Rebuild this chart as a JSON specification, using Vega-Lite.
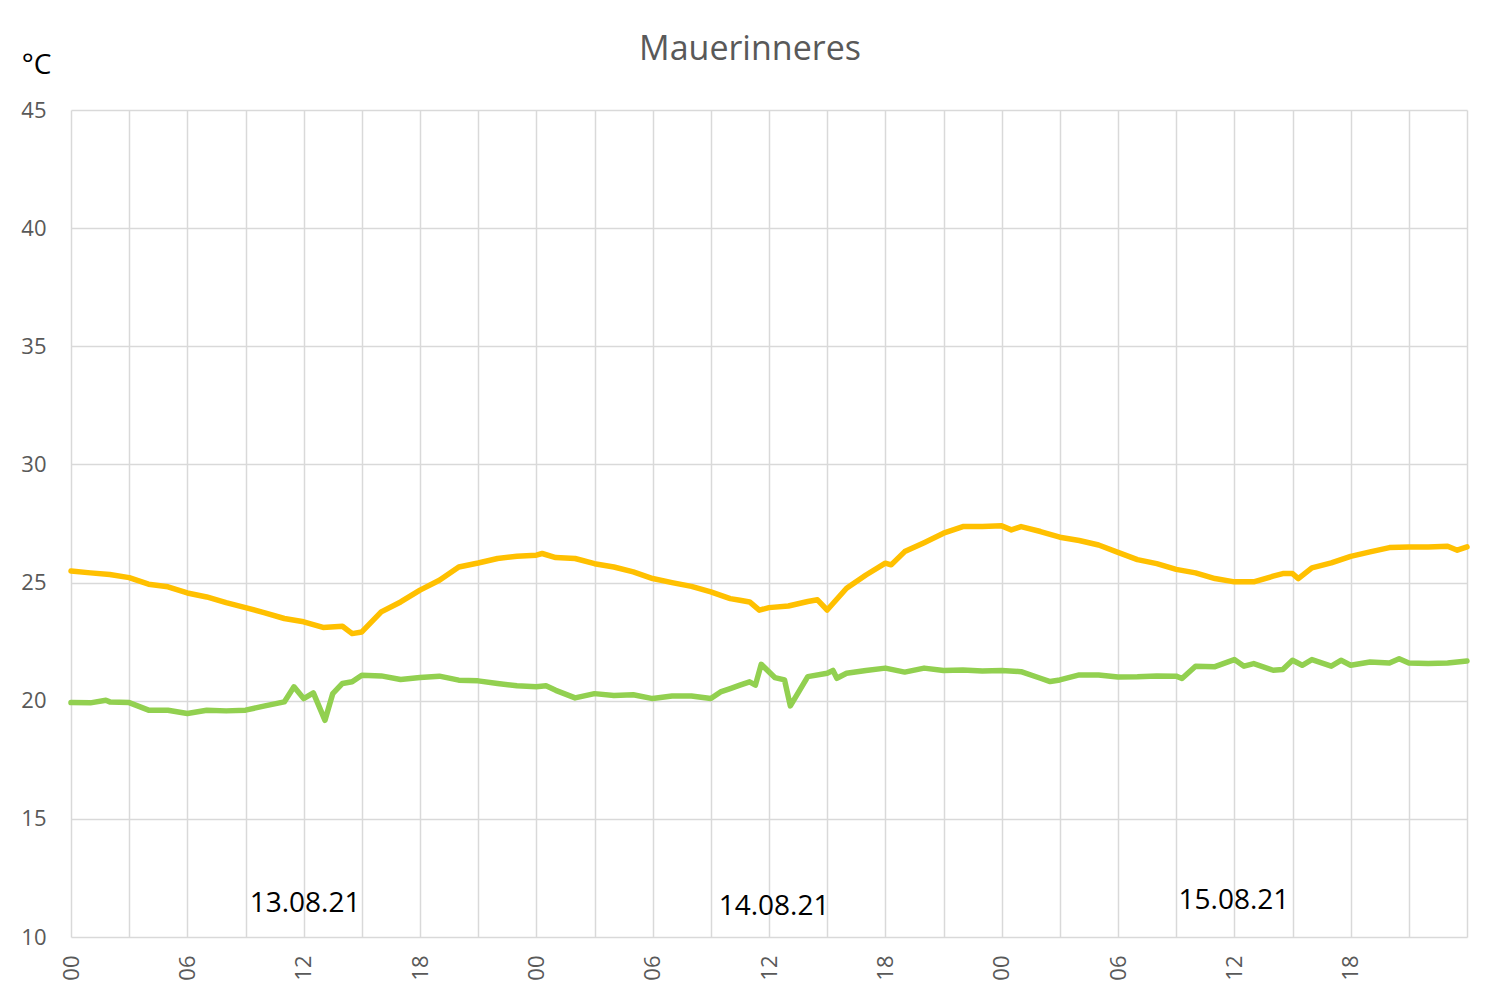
{
  "$schema": "https://vega.github.io/schema/vega-lite/v6.json",
  "width": 1396,
  "height": 827,
  "autosize": "none",
  "padding": {"left": 71, "top": 110, "right": 33, "bottom": 64},
  "background": "white",
  "title": {
    "text": "Mauerinneres",
    "font": "Open Sans",
    "fontSize": 34,
    "fontWeight": "normal",
    "color": "#595959",
    "anchor": "middle",
    "frame": "group",
    "baseline": "alphabetic",
    "offset": 0,
    "dy": 43,
    "dx": -19
  },
  "datasets": {
    "temps": [
      {"h": 0, "T": 25.49, "serie": "Reihe 1"},
      {"h": 1, "T": 25.41, "serie": "Reihe 1"},
      {"h": 2, "T": 25.34, "serie": "Reihe 1"},
      {"h": 3, "T": 25.21, "serie": "Reihe 1"},
      {"h": 4, "T": 24.93, "serie": "Reihe 1"},
      {"h": 5, "T": 24.82, "serie": "Reihe 1"},
      {"h": 6, "T": 24.56, "serie": "Reihe 1"},
      {"h": 7, "T": 24.39, "serie": "Reihe 1"},
      {"h": 8, "T": 24.15, "serie": "Reihe 1"},
      {"h": 9, "T": 23.94, "serie": "Reihe 1"},
      {"h": 10, "T": 23.72, "serie": "Reihe 1"},
      {"h": 11, "T": 23.48, "serie": "Reihe 1"},
      {"h": 12, "T": 23.34, "serie": "Reihe 1"},
      {"h": 13, "T": 23.10, "serie": "Reihe 1"},
      {"h": 14, "T": 23.15, "serie": "Reihe 1"},
      {"h": 14.5, "T": 22.84, "serie": "Reihe 1"},
      {"h": 15, "T": 22.91, "serie": "Reihe 1"},
      {"h": 16, "T": 23.76, "serie": "Reihe 1"},
      {"h": 17, "T": 24.18, "serie": "Reihe 1"},
      {"h": 18, "T": 24.68, "serie": "Reihe 1"},
      {"h": 19, "T": 25.10, "serie": "Reihe 1"},
      {"h": 20, "T": 25.66, "serie": "Reihe 1"},
      {"h": 21, "T": 25.83, "serie": "Reihe 1"},
      {"h": 22, "T": 26.02, "serie": "Reihe 1"},
      {"h": 23, "T": 26.11, "serie": "Reihe 1"},
      {"h": 24, "T": 26.16, "serie": "Reihe 1"},
      {"h": 24.3, "T": 26.23, "serie": "Reihe 1"},
      {"h": 25, "T": 26.06, "serie": "Reihe 1"},
      {"h": 26, "T": 26.02, "serie": "Reihe 1"},
      {"h": 27, "T": 25.80, "serie": "Reihe 1"},
      {"h": 28, "T": 25.66, "serie": "Reihe 1"},
      {"h": 29, "T": 25.45, "serie": "Reihe 1"},
      {"h": 30, "T": 25.17, "serie": "Reihe 1"},
      {"h": 31, "T": 25.00, "serie": "Reihe 1"},
      {"h": 32, "T": 24.84, "serie": "Reihe 1"},
      {"h": 33, "T": 24.61, "serie": "Reihe 1"},
      {"h": 34, "T": 24.32, "serie": "Reihe 1"},
      {"h": 34.5, "T": 24.25, "serie": "Reihe 1"},
      {"h": 35, "T": 24.18, "serie": "Reihe 1"},
      {"h": 35.5, "T": 23.83, "serie": "Reihe 1"},
      {"h": 36, "T": 23.94, "serie": "Reihe 1"},
      {"h": 37, "T": 24.01, "serie": "Reihe 1"},
      {"h": 38, "T": 24.20, "serie": "Reihe 1"},
      {"h": 38.5, "T": 24.27, "serie": "Reihe 1"},
      {"h": 39, "T": 23.84, "serie": "Reihe 1"},
      {"h": 40, "T": 24.76, "serie": "Reihe 1"},
      {"h": 41, "T": 25.32, "serie": "Reihe 1"},
      {"h": 42, "T": 25.82, "serie": "Reihe 1"},
      {"h": 42.3, "T": 25.75, "serie": "Reihe 1"},
      {"h": 43, "T": 26.31, "serie": "Reihe 1"},
      {"h": 44, "T": 26.69, "serie": "Reihe 1"},
      {"h": 45, "T": 27.09, "serie": "Reihe 1"},
      {"h": 46, "T": 27.37, "serie": "Reihe 1"},
      {"h": 47, "T": 27.37, "serie": "Reihe 1"},
      {"h": 48, "T": 27.40, "serie": "Reihe 1"},
      {"h": 48.5, "T": 27.23, "serie": "Reihe 1"},
      {"h": 49, "T": 27.37, "serie": "Reihe 1"},
      {"h": 50, "T": 27.16, "serie": "Reihe 1"},
      {"h": 51, "T": 26.92, "serie": "Reihe 1"},
      {"h": 52, "T": 26.78, "serie": "Reihe 1"},
      {"h": 53, "T": 26.59, "serie": "Reihe 1"},
      {"h": 54, "T": 26.28, "serie": "Reihe 1"},
      {"h": 55, "T": 25.97, "serie": "Reihe 1"},
      {"h": 56, "T": 25.80, "serie": "Reihe 1"},
      {"h": 57, "T": 25.56, "serie": "Reihe 1"},
      {"h": 58, "T": 25.41, "serie": "Reihe 1"},
      {"h": 59, "T": 25.17, "serie": "Reihe 1"},
      {"h": 60, "T": 25.03, "serie": "Reihe 1"},
      {"h": 61, "T": 25.03, "serie": "Reihe 1"},
      {"h": 62, "T": 25.27, "serie": "Reihe 1"},
      {"h": 62.5, "T": 25.38, "serie": "Reihe 1"},
      {"h": 63, "T": 25.38, "serie": "Reihe 1"},
      {"h": 63.3, "T": 25.17, "serie": "Reihe 1"},
      {"h": 64, "T": 25.62, "serie": "Reihe 1"},
      {"h": 65, "T": 25.83, "serie": "Reihe 1"},
      {"h": 66, "T": 26.11, "serie": "Reihe 1"},
      {"h": 67, "T": 26.30, "serie": "Reihe 1"},
      {"h": 68, "T": 26.48, "serie": "Reihe 1"},
      {"h": 69, "T": 26.51, "serie": "Reihe 1"},
      {"h": 70, "T": 26.51, "serie": "Reihe 1"},
      {"h": 71, "T": 26.54, "serie": "Reihe 1"},
      {"h": 71.5, "T": 26.37, "serie": "Reihe 1"},
      {"h": 72, "T": 26.51, "serie": "Reihe 1"},
      {"h": 0, "T": 19.92, "serie": "Reihe 2"},
      {"h": 1, "T": 19.91, "serie": "Reihe 2"},
      {"h": 1.8, "T": 20.02, "serie": "Reihe 2"},
      {"h": 2, "T": 19.95, "serie": "Reihe 2"},
      {"h": 3, "T": 19.92, "serie": "Reihe 2"},
      {"h": 4, "T": 19.60, "serie": "Reihe 2"},
      {"h": 5, "T": 19.60, "serie": "Reihe 2"},
      {"h": 6, "T": 19.46, "serie": "Reihe 2"},
      {"h": 7, "T": 19.60, "serie": "Reihe 2"},
      {"h": 8, "T": 19.57, "serie": "Reihe 2"},
      {"h": 9, "T": 19.60, "serie": "Reihe 2"},
      {"h": 10, "T": 19.78, "serie": "Reihe 2"},
      {"h": 11, "T": 19.95, "serie": "Reihe 2"},
      {"h": 11.5, "T": 20.59, "serie": "Reihe 2"},
      {"h": 12, "T": 20.09, "serie": "Reihe 2"},
      {"h": 12.5, "T": 20.33, "serie": "Reihe 2"},
      {"h": 13.1, "T": 19.17, "serie": "Reihe 2"},
      {"h": 13.5, "T": 20.30, "serie": "Reihe 2"},
      {"h": 14, "T": 20.73, "serie": "Reihe 2"},
      {"h": 14.5, "T": 20.80, "serie": "Reihe 2"},
      {"h": 15, "T": 21.08, "serie": "Reihe 2"},
      {"h": 16, "T": 21.05, "serie": "Reihe 2"},
      {"h": 17, "T": 20.90, "serie": "Reihe 2"},
      {"h": 18, "T": 20.98, "serie": "Reihe 2"},
      {"h": 19, "T": 21.04, "serie": "Reihe 2"},
      {"h": 20, "T": 20.87, "serie": "Reihe 2"},
      {"h": 21, "T": 20.84, "serie": "Reihe 2"},
      {"h": 22, "T": 20.73, "serie": "Reihe 2"},
      {"h": 23, "T": 20.63, "serie": "Reihe 2"},
      {"h": 24, "T": 20.59, "serie": "Reihe 2"},
      {"h": 24.5, "T": 20.63, "serie": "Reihe 2"},
      {"h": 25, "T": 20.44, "serie": "Reihe 2"},
      {"h": 26, "T": 20.12, "serie": "Reihe 2"},
      {"h": 27, "T": 20.30, "serie": "Reihe 2"},
      {"h": 28, "T": 20.22, "serie": "Reihe 2"},
      {"h": 29, "T": 20.25, "serie": "Reihe 2"},
      {"h": 30, "T": 20.09, "serie": "Reihe 2"},
      {"h": 31, "T": 20.20, "serie": "Reihe 2"},
      {"h": 32, "T": 20.20, "serie": "Reihe 2"},
      {"h": 33, "T": 20.09, "serie": "Reihe 2"},
      {"h": 33.5, "T": 20.37, "serie": "Reihe 2"},
      {"h": 34, "T": 20.51, "serie": "Reihe 2"},
      {"h": 34.5, "T": 20.66, "serie": "Reihe 2"},
      {"h": 35, "T": 20.80, "serie": "Reihe 2"},
      {"h": 35.3, "T": 20.66, "serie": "Reihe 2"},
      {"h": 35.6, "T": 21.54, "serie": "Reihe 2"},
      {"h": 36.3, "T": 20.98, "serie": "Reihe 2"},
      {"h": 36.8, "T": 20.88, "serie": "Reihe 2"},
      {"h": 37.1, "T": 19.78, "serie": "Reihe 2"},
      {"h": 38, "T": 21.02, "serie": "Reihe 2"},
      {"h": 39, "T": 21.16, "serie": "Reihe 2"},
      {"h": 39.3, "T": 21.28, "serie": "Reihe 2"},
      {"h": 39.5, "T": 20.95, "serie": "Reihe 2"},
      {"h": 40, "T": 21.16, "serie": "Reihe 2"},
      {"h": 41, "T": 21.28, "serie": "Reihe 2"},
      {"h": 42, "T": 21.38, "serie": "Reihe 2"},
      {"h": 43, "T": 21.21, "serie": "Reihe 2"},
      {"h": 44, "T": 21.38, "serie": "Reihe 2"},
      {"h": 45, "T": 21.28, "serie": "Reihe 2"},
      {"h": 46, "T": 21.30, "serie": "Reihe 2"},
      {"h": 47, "T": 21.26, "serie": "Reihe 2"},
      {"h": 48, "T": 21.28, "serie": "Reihe 2"},
      {"h": 49, "T": 21.23, "serie": "Reihe 2"},
      {"h": 50, "T": 20.95, "serie": "Reihe 2"},
      {"h": 50.5, "T": 20.81, "serie": "Reihe 2"},
      {"h": 51, "T": 20.88, "serie": "Reihe 2"},
      {"h": 52, "T": 21.09, "serie": "Reihe 2"},
      {"h": 53, "T": 21.09, "serie": "Reihe 2"},
      {"h": 54, "T": 21.00, "serie": "Reihe 2"},
      {"h": 55, "T": 21.01, "serie": "Reihe 2"},
      {"h": 56, "T": 21.05, "serie": "Reihe 2"},
      {"h": 57, "T": 21.04, "serie": "Reihe 2"},
      {"h": 57.3, "T": 20.94, "serie": "Reihe 2"},
      {"h": 58, "T": 21.46, "serie": "Reihe 2"},
      {"h": 59, "T": 21.44, "serie": "Reihe 2"},
      {"h": 60, "T": 21.74, "serie": "Reihe 2"},
      {"h": 60.5, "T": 21.46, "serie": "Reihe 2"},
      {"h": 61, "T": 21.57, "serie": "Reihe 2"},
      {"h": 62, "T": 21.29, "serie": "Reihe 2"},
      {"h": 62.5, "T": 21.32, "serie": "Reihe 2"},
      {"h": 63, "T": 21.71, "serie": "Reihe 2"},
      {"h": 63.5, "T": 21.50, "serie": "Reihe 2"},
      {"h": 64, "T": 21.74, "serie": "Reihe 2"},
      {"h": 65, "T": 21.46, "serie": "Reihe 2"},
      {"h": 65.5, "T": 21.71, "serie": "Reihe 2"},
      {"h": 66, "T": 21.50, "serie": "Reihe 2"},
      {"h": 67, "T": 21.64, "serie": "Reihe 2"},
      {"h": 68, "T": 21.60, "serie": "Reihe 2"},
      {"h": 68.5, "T": 21.78, "serie": "Reihe 2"},
      {"h": 69, "T": 21.60, "serie": "Reihe 2"},
      {"h": 70, "T": 21.57, "serie": "Reihe 2"},
      {"h": 71, "T": 21.60, "serie": "Reihe 2"},
      {"h": 72, "T": 21.68, "serie": "Reihe 2"}
    ],
    "days": [
      {"h": 12.07, "T": 11.4, "label": "13.08.21"},
      {"h": 36.26, "T": 11.27, "label": "14.08.21"},
      {"h": 59.98, "T": 11.52, "label": "15.08.21"}
    ]
  },
  "layer": [
    {
      "data": {"name": "temps"},
      "mark": {"type": "line", "strokeWidth": 5.5, "strokeJoin": "round", "strokeCap": "round"},
      "encoding": {
        "x": {
          "field": "h",
          "type": "quantitative",
          "scale": {"domain": [0, 72], "nice": false, "zero": false},
          "axis": {
            "values": [0, 3, 6, 9, 12, 15, 18, 21, 24, 27, 30, 33, 36, 39, 42, 45, 48, 51, 54, 57, 60, 63, 66, 69, 72],
            "labelExpr": "datum.value % 6 == 0 && datum.value < 72 ? ((datum.value % 24 < 10 ? '0' : '') + (datum.value % 24)) : ''",
            "labelAngle": -90,
            "labelPadding": 18,
            "labelOverlap": false,
            "labelFlush": false,
            "title": null
          }
        },
        "y": {
          "field": "T",
          "type": "quantitative",
          "scale": {"domain": [10, 45], "nice": false, "zero": false},
          "axis": {
            "values": [10, 15, 20, 25, 30, 35, 40, 45],
            "labelPadding": 25,
            "title": "°C",
            "titleAngle": 0,
            "titleX": -35,
            "titleY": -45,
            "titleAlign": "center",
            "titleBaseline": "middle",
            "titleFont": "Open Sans",
            "titleFontSize": 28,
            "titleFontWeight": "normal",
            "titleColor": "black"
          }
        },
        "color": {
          "field": "serie",
          "type": "nominal",
          "scale": {"domain": ["Reihe 1", "Reihe 2"], "range": ["#FFC000", "#92D050"]},
          "legend": null
        }
      }
    },
    {
      "data": {"name": "days"},
      "mark": {"type": "text", "font": "Open Sans", "fontSize": 28, "color": "black", "align": "center", "baseline": "middle"},
      "encoding": {
        "x": {"field": "h", "type": "quantitative"},
        "y": {"field": "T", "type": "quantitative"},
        "text": {"field": "label", "type": "nominal"}
      }
    }
  ],
  "config": {
    "view": {"stroke": null},
    "axis": {
      "grid": true,
      "gridColor": "#D9D9D9",
      "gridWidth": 1.5,
      "ticks": false,
      "domain": false,
      "labelFont": "Open Sans",
      "labelFontSize": 22,
      "labelColor": "#595959"
    }
  }
}
